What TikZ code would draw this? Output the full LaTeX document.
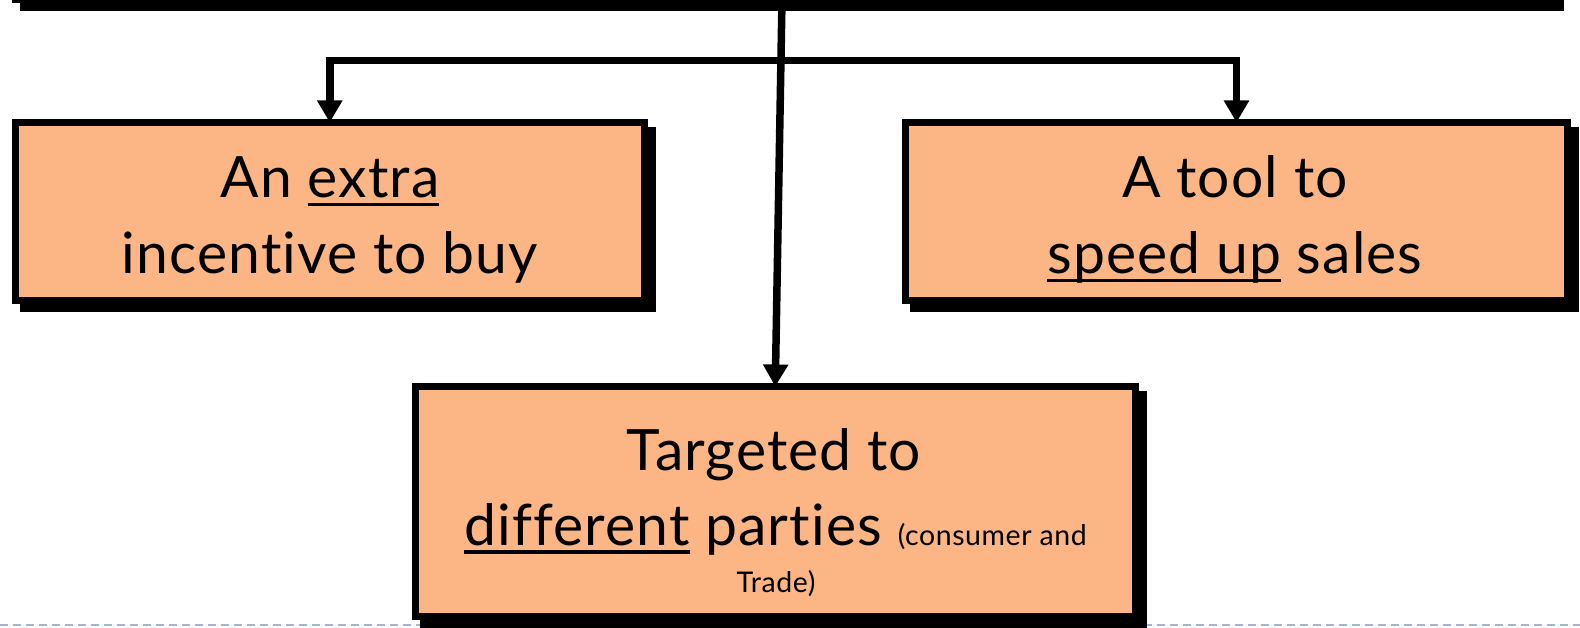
\documentclass[tikz,border=0pt]{standalone}
\usepackage{fontspec}
\setmainfont{Lato}[RawFeature={-liga;-dlig}, LetterSpace=2]
\usetikzlibrary{arrows.meta,shadows}
\definecolor{peach}{RGB}{252,181,132}
\definecolor{dashblue}{RGB}{160,182,212}
\newsavebox\ulbox
\newcommand\ulword[1]{\sbox\ulbox{#1}\rlap{\rule[-8.5pt]{\wd\ulbox}{3.2pt}}\usebox\ulbox}

\begin{document}
\begin{tikzpicture}[x=1pt,y=-1pt,
  >={Triangle[width=24pt,length=22pt]},
  box/.style={draw=black, line width=7pt, fill=peach, inner sep=0pt, outer sep=0pt,
    drop shadow={shadow xshift=8pt, shadow yshift=-8pt, opacity=1,
                 fill=black, draw=black, line width=7pt}},
  big/.style={font=\fontsize{57}{68}\selectfont, inner sep=0pt, anchor=base},
  small/.style={font=\fontsize{28.5}{34}\selectfont, inner sep=0pt, anchor=base},
  conn/.style={draw=black, line width=7.5pt}]

\useasboundingbox (0,0) rectangle (1580,628);
\clip (0,0) rectangle (1580,628);

% page guide along the bottom
\draw[dashblue, line width=2pt, dash pattern=on 8pt off 5pt] (0,625) -- (1580,625);

% parent box (only its lower edge is in view)
\node[box, fill=white, minimum width=1537pt, minimum height=60pt] (root) at (784,-30.5) {};

% child boxes
\node[box, minimum width=629.5pt, minimum height=178pt] (left)  at (329.75,211.5) {};
\node[box, minimum width=662pt,   minimum height=178pt] (right) at (1236.5,211.5) {};
\node[box, minimum width=720.5pt, minimum height=230pt] (bot)   at (775.25,501.5) {};

% connectors
\draw[conn, <->] (left.north) -- ++(0,-62) -| (right.north);
\draw[conn, ->] ([xshift=-2pt]root.south) -- (bot.north);

% box texts
\node[big] (lt1) at (330,198) {An \ulword{extra}};
\node[big] (lt2) at (330,274) {incentive to buy};
\node[big] (rt1) at (1235,198) {A tool to};
\node[big] (rt2) at (1235,274) {\ulword{speed up} sales};
\node[big] (bt1) at (774,470) {Targeted to};
\node[big] (bt2) at (775.5,545) {\ulword{different} parties {\fontsize{28.5}{34}\selectfont(consumer and}};
\node[small] (bt3) at (776,592) {Trade)};
\end{tikzpicture}
\end{document}
